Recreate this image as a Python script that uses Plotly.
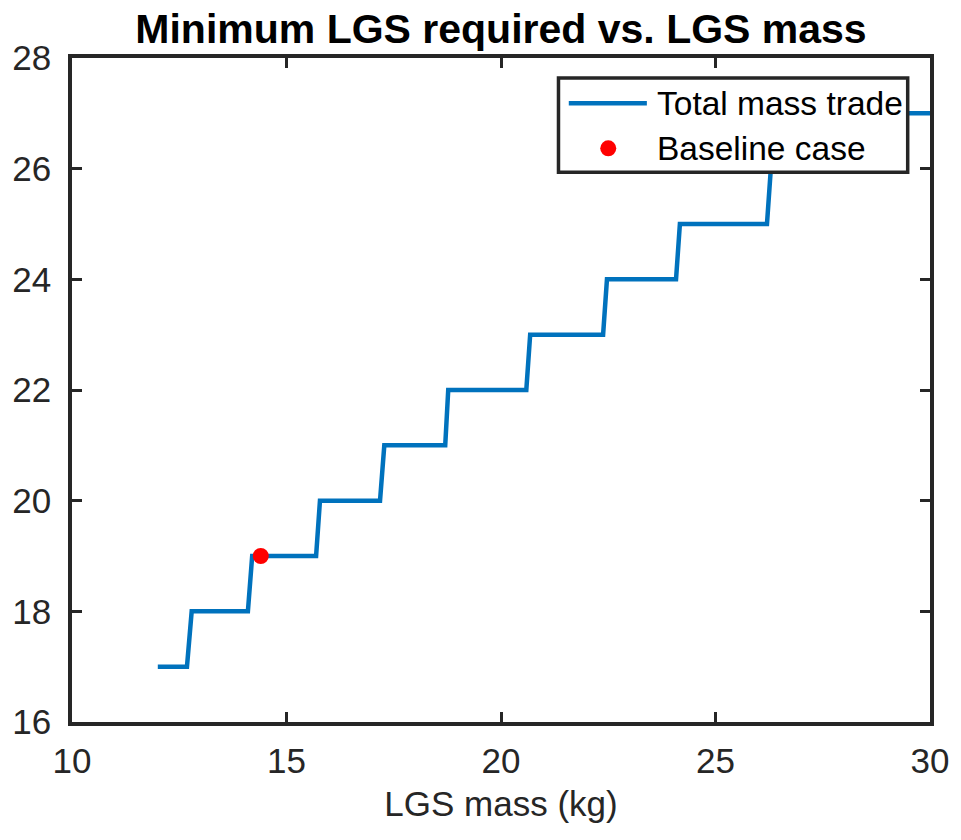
import plotly.graph_objects as go

# Step curve: LGS mass (kg) vs minimum number of LGS required
lgs_mass = [12.0, 12.68, 12.79, 14.10, 14.20, 15.69, 15.78, 17.18, 17.28,
            18.70, 18.77, 20.59, 20.68, 22.38, 22.47, 24.08, 24.17, 26.20,
            26.29, 28.20, 28.29, 30.0]
min_lgs = [17, 17, 18, 18, 19, 19, 20, 20, 21,
           21, 22, 22, 23, 23, 24, 24, 25, 25,
           26, 26, 27, 27]

baseline_mass = [14.4]
baseline_lgs = [19]

x_ticks = [10, 15, 20, 25, 30]
y_ticks = [16, 18, 20, 22, 24, 26, 28]

FONT = "Liberation Sans, Arial, Helvetica, sans-serif"
AX = "#262626"
BLUE = "#0072BD"

fig = go.Figure()
fig.add_trace(go.Scatter(x=lgs_mass, y=min_lgs, mode="lines",
                         line=dict(color=BLUE, width=4.5),
                         name="Total mass trade", showlegend=False))
fig.add_trace(go.Scatter(x=baseline_mass, y=baseline_lgs, mode="markers",
                         marker=dict(color="#FF0000", size=16),
                         name="Baseline case", showlegend=False))

# custom legend (MATLAB style)
lx0, lx1, ly0, ly1 = 0.567, 0.974, 0.828, 0.970
shapes = [
    dict(type="rect", xref="paper", yref="paper", x0=lx0, x1=lx1, y0=ly0, y1=ly1,
         fillcolor="white", line=dict(color=AX, width=3.5), layer="above"),
    dict(type="line", xref="paper", yref="paper", x0=0.579, x1=0.670, y0=0.932, y1=0.932,
         line=dict(color=BLUE, width=4.5), layer="above"),
    dict(type="circle", xref="paper", yref="paper", xsizemode="pixel", ysizemode="pixel",
         xanchor=0.625, yanchor=0.864, x0=-8, x1=8, y0=-8, y1=8,
         fillcolor="#FF0000", line=dict(width=0), layer="above"),
]
annotations = [
    dict(text="Total mass trade", xref="paper", yref="paper", x=0.679, y=0.932,
         xanchor="left", yanchor="middle", showarrow=False,
         font=dict(family=FONT, size=33.5, color="black")),
    dict(text="Baseline case", xref="paper", yref="paper", x=0.679, y=0.864,
         xanchor="left", yanchor="middle", showarrow=False,
         font=dict(family=FONT, size=33.5, color="black")),
]

fig.update_layout(
    width=961, height=840,
    margin=dict(l=66.5, r=23, t=58, b=118),
    paper_bgcolor="white", plot_bgcolor="white",
    font=dict(family=FONT, size=35, color=AX),
    title=dict(text="<b>Minimum LGS required vs. LGS mass</b>", x=0.5, xref="paper",
               xanchor="center", y=0.966, yanchor="middle",
               font=dict(family=FONT, size=41, color="black")),
    shapes=shapes, annotations=annotations,
    showlegend=False,
)
fig.update_xaxes(range=[10, 30], tickvals=x_ticks, ticktext=[str(v) for v in x_ticks],
                 showgrid=False, zeroline=False, showline=True, linewidth=3.5,
                 linecolor=AX, mirror="ticks", ticks="inside", ticklen=10,
                 tickwidth=3, tickcolor=AX, ticklabelstandoff=5,
                 title=dict(text="LGS mass (kg)", standoff=14,
                            font=dict(family=FONT, size=35, color=AX)))
fig.update_yaxes(range=[16, 28], tickvals=y_ticks, ticktext=[str(v) for v in y_ticks],
                 showgrid=False, zeroline=False, showline=True, linewidth=3.5,
                 linecolor=AX, mirror="ticks", ticks="inside", ticklen=10,
                 tickwidth=3, tickcolor=AX, ticklabelstandoff=10)

fig.write_html("out.html")
